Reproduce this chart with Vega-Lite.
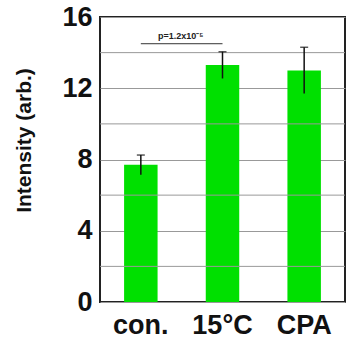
{
  "$schema": "https://vega.github.io/schema/vega-lite/v6.json",
  "width": 245,
  "height": 285,
  "autosize": {"type": "none"},
  "padding": {"left": 100, "top": 17, "right": 5, "bottom": 46},
  "background": "white",
  "config": {
    "font": "Liberation Sans",
    "view": {"stroke": "#222", "strokeWidth": 2}
  },
  "datasets": {
    "groups": [
      {"group": "con.", "mean": 7.7, "err": 0.55},
      {"group": "15°C", "mean": 13.3, "err": 0.75},
      {"group": "CPA", "mean": 13.0, "err": 1.3}
    ],
    "bracket": [
      {"group": "con.", "y": 14.5},
      {"group": "15°C", "y": 14.5}
    ],
    "sig": [
      {"group": "con.", "y": 14.5, "label": "p=1.2x10⁻⁵"}
    ]
  },
  "encoding": {
    "x": {
      "field": "group",
      "type": "nominal",
      "scale": {"domain": ["con.", "15°C", "CPA"], "paddingInner": 0.59, "paddingOuter": 0.295},
      "axis": {
        "title": null,
        "labelAngle": 0,
        "labelFont": "Liberation Sans",
        "labelFontSize": 27,
        "labelFontWeight": "bold",
        "labelColor": "#111",
        "labelPadding": 10,
        "ticks": false,
        "domain": false
      }
    }
  },
  "layer": [
    {
      "data": {"name": "groups"},
      "mark": {"type": "bar", "color": "#00e000"},
      "encoding": {
        "y": {
          "field": "mean",
          "type": "quantitative",
          "scale": {"domain": [0, 16], "nice": false},
          "axis": {
            "values": [0, 4, 8, 12, 16],
            "gridColor": "#999",
            "gridWidth": 1,
            "ticks": false,
            "domain": false,
            "labelFont": "Liberation Sans",
            "labelFontSize": 27,
            "labelFontWeight": "bold",
            "labelColor": "#111",
            "labelPadding": 8,
            "title": "Intensity (arb.)",
            "titleFont": "Liberation Sans",
            "titleFontSize": 21,
            "titleFontWeight": "bold",
            "titleColor": "#111",
            "titleAnchor": "middle",
            "titleAngle": -90,
            "titleX": -66,
            "titleY": 123
          }
        }
      }
    },
    {
      "data": {"values": [{"v": 2}, {"v": 6}, {"v": 10}, {"v": 14}]},
      "mark": {"type": "rule", "color": "#999", "strokeWidth": 1},
      "encoding": {"y": {"field": "v", "type": "quantitative"}, "x": null}
    },
    {
      "data": {"name": "groups"},
      "transform": [
        {"calculate": "datum.mean - datum.err", "as": "lo"},
        {"calculate": "datum.mean + datum.err", "as": "hi"}
      ],
      "layer": [
        {
          "mark": {"type": "rule", "color": "#111", "strokeWidth": 1.5},
          "encoding": {
            "y": {"field": "lo", "type": "quantitative"},
            "y2": {"field": "hi"}
          }
        },
        {
          "mark": {"type": "tick", "color": "#111", "thickness": 1.5, "size": 8, "orient": "horizontal"},
          "encoding": {"y": {"field": "hi", "type": "quantitative"}}
        }
      ]
    },
    {
      "data": {"name": "bracket"},
      "mark": {"type": "line", "color": "#333", "strokeWidth": 1},
      "encoding": {
        "y": {"field": "y", "type": "quantitative"}
      }
    },
    {
      "data": {"name": "sig"},
      "mark": {"type": "text", "fontSize": 9, "fontWeight": "bold", "color": "#222", "baseline": "bottom", "dy": -3, "dx": 40},
      "encoding": {
        "y": {"field": "y", "type": "quantitative"},
        "text": {"field": "label"}
      }
    }
  ]
}
